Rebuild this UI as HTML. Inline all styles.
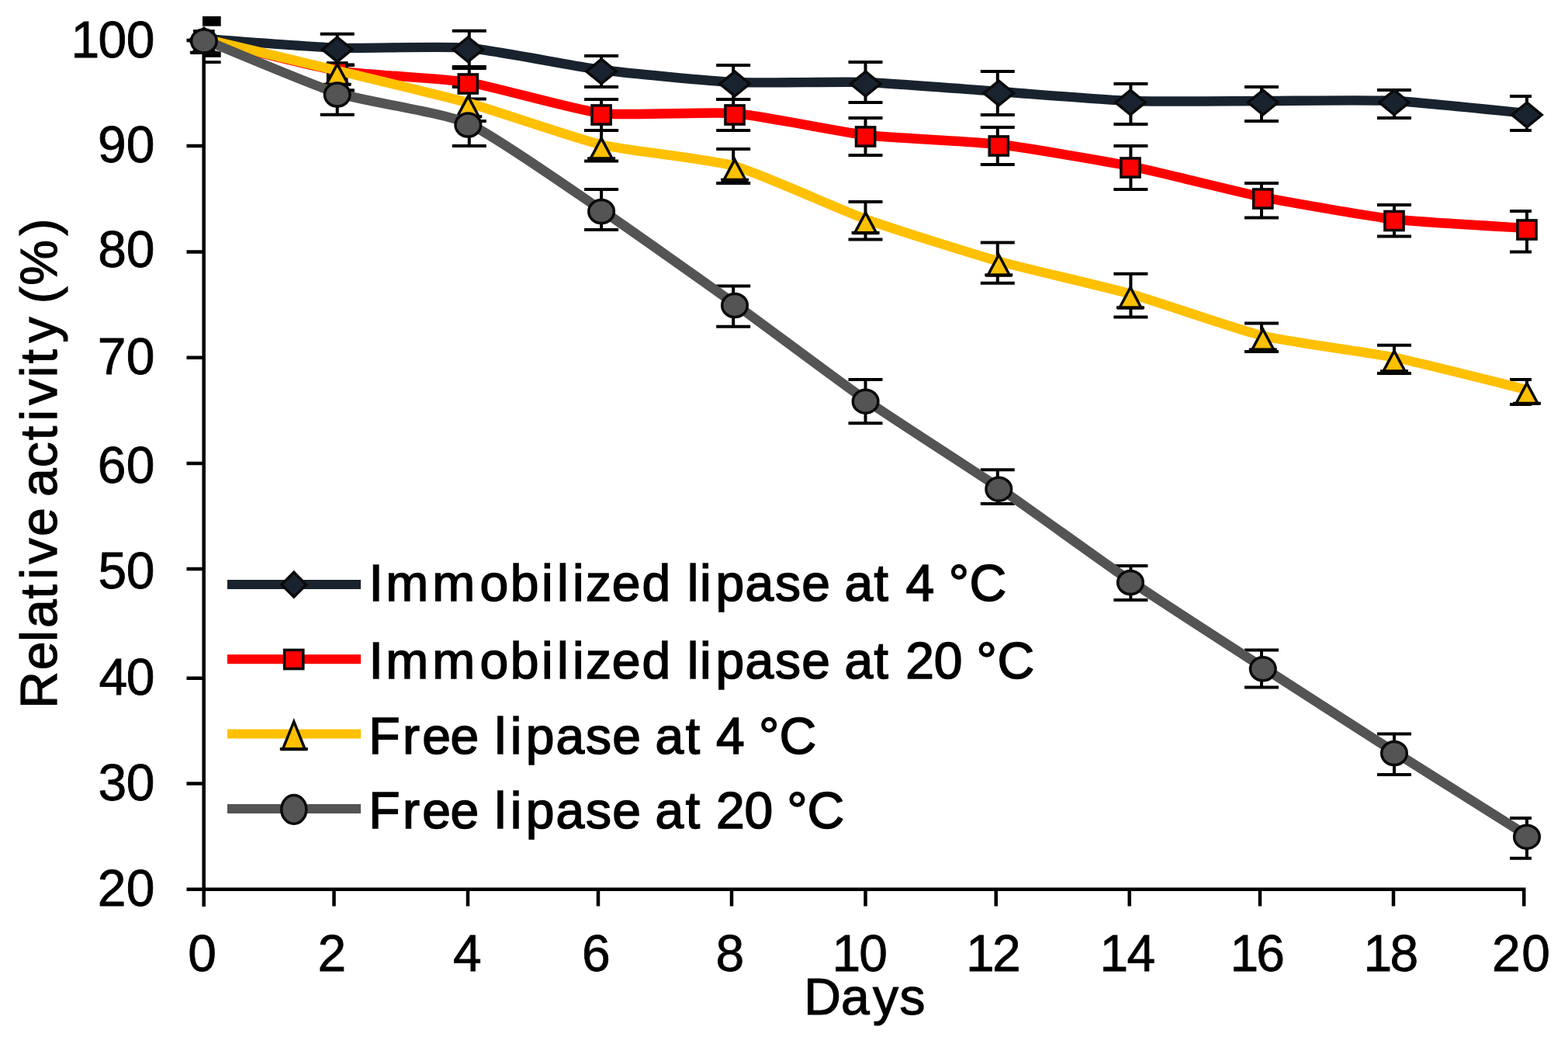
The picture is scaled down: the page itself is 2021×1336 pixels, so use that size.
<!DOCTYPE html>
<html lang="en">
<head>
<meta charset="utf-8">
<title>Relative activity of lipase over days</title>
<style>
html,body{margin:0;padding:0;background:#fff;}
body{width:2021px;height:1336px;overflow:hidden;}
svg{display:block;filter:blur(0.7px);}
text{font-family:"Liberation Sans",sans-serif;font-size:66px;fill:#000;}
.tk{stroke:#000;stroke-width:0.8px;}
.lg{stroke:#000;stroke-width:1.6px;}
.ttl{stroke:#000;stroke-width:1.2px;}
.ax{stroke:#000;stroke-width:4.5;fill:none;}
.eb path{stroke:#000;stroke-width:4;fill:none;}
.ln{fill:none;stroke-linejoin:round;stroke-linecap:butt;}
.mk{stroke:#0a0a0a;stroke-width:3.5;stroke-linejoin:miter;}
</style>
</head>
<body>
<svg width="2021" height="1336" viewBox="0 0 2021 1336">
<defs><clipPath id="plot"><rect x="261" y="0" width="1713" height="1146"/></clipPath></defs>
<rect width="2021" height="1336" fill="#fff"/>
<path class="ax" d="M262.7,50V1168 M240.5,1145.75H1966.5 M240.5,52H262.7 M240.5,188H262.7 M240.5,324.5H262.7 M240.5,460.75H262.7 M240.5,597H262.7 M240.5,733H262.7 M240.5,873.75H262.7 M240.5,1009.5H262.7 M430.5,1145.75V1167.5 M603,1145.75V1167.5 M771,1145.75V1167.5 M943,1145.75V1167.5 M1115.5,1145.75V1167.5 M1283.75,1145.75V1167.5 M1455.75,1145.75V1167.5 M1624,1145.75V1167.5 M1796,1145.75V1167.5 M1964.25,1145.75V1167.5"/>
<text class="tk" x="91.6 126.6 162.8" y="73.5">100</text>
<text class="tk" x="126.1 162.8" y="208.6">90</text>
<text class="tk" x="126.3 162.8" y="343.8">80</text>
<text class="tk" x="125.8 162.8" y="482.4">70</text>
<text class="tk" x="125.8 162.8" y="621.8">60</text>
<text class="tk" x="126.5 162.8" y="758.3">50</text>
<text class="tk" x="127.6 162.8" y="895.1">40</text>
<text class="tk" x="126.6 162.8" y="1030.7">30</text>
<text class="tk" x="125.8 162.8" y="1167.1">20</text>
<text class="tk" x="242.3" y="1250.6">0</text>
<text class="tk" x="409.6" y="1250.6">2</text>
<text class="tk" x="583.9" y="1250.6">4</text>
<text class="tk" x="750.0" y="1250.6">6</text>
<text class="tk" x="922.5" y="1250.6">8</text>
<text class="tk" x="1072.4 1107.3" y="1250.6">10</text>
<text class="tk" x="1244.9 1279.1" y="1250.6">12</text>
<text class="tk" x="1417.4 1452.6" y="1250.6">14</text>
<text class="tk" x="1585.6 1619.3" y="1250.6">16</text>
<text class="tk" x="1757.6 1791.5" y="1250.6">18</text>
<text class="tk" x="1923.1 1961.3" y="1250.6">20</text>
<text class="ttl" x="1036.3 1084.0 1125.0 1159.6" y="1306.8">Days</text>
<text class="ttl" transform="translate(72.5,0) rotate(-90)" x="-912.8 -863.2 -826.8 -809.0 -771.6 -746.6 -726.4 -690.9 -654.2 -640.0 -602.3 -567.2 -542.6 -521.8 -486.3 -468.4 -441.4 -408.4 -391.2 -367.8 -303.5" y="0">Relative activity (%)</text>
<g class="eb" clip-path="url(#plot)"><path d="M412.7,83.7H456.7M434.7,43.8V83.7M412.7,43.8H456.7"/><path d="M582.8,86.0H626.8M604.8,39.8V86.0M582.8,39.8H626.8"/><path d="M753.1,112.0H797.1M775.1,72.0V112.0M753.1,72.0H797.1"/><path d="M923.2,128.0H967.2M945.2,84.0V128.0M923.2,84.0H967.2"/><path d="M1093.5,132.0H1137.5M1115.5,80.0V132.0M1093.5,80.0H1137.5"/><path d="M1263.8,148.0H1307.8M1285.8,92.0V148.0M1263.8,92.0H1307.8"/><path d="M1435.4,160.0H1479.4M1457.4,108.0V160.0M1435.4,108.0H1479.4"/><path d="M1604.0,156.0H1648.0M1626.0,112.0V156.0M1604.0,112.0H1648.0"/><path d="M1775.0,152.0H1819.0M1797.0,116.0V152.0M1775.0,116.0H1819.0"/><path d="M1946.0,168.0H1990.0M1968.0,124.0V168.0M1946.0,124.0H1990.0"/><path d="M412.7,116.5H456.7M434.7,83.7V116.5M412.7,83.7H456.7"/><path d="M582.8,127.4H626.8M604.8,88.0V127.4M582.8,88.0H626.8"/><path d="M753.1,168.0H797.1M775.1,128.0V168.0M753.1,128.0H797.1"/><path d="M923.2,168.0H967.2M945.2,128.0V168.0M923.2,128.0H967.2"/><path d="M1093.5,200.0H1137.5M1115.5,152.0V200.0M1093.5,152.0H1137.5"/><path d="M1263.8,212.0H1307.8M1285.8,164.0V212.0M1263.8,164.0H1307.8"/><path d="M1435.4,244.0H1479.4M1457.4,188.0V244.0M1435.4,188.0H1479.4"/><path d="M1604.0,280.5H1648.0M1626.0,236.0V280.5M1604.0,236.0H1648.0"/><path d="M1775.0,304.5H1819.0M1797.0,264.0V304.5M1775.0,264.0H1819.0"/><path d="M1946.0,324.5H1990.0M1968.0,272.0V324.5M1946.0,272.0H1990.0"/><path d="M412.7,116.5H456.7M434.7,83.7V116.5M412.7,83.7H456.7"/><path d="M582.8,156.0H626.8M604.8,112.0V156.0M582.8,112.0H626.8"/><path d="M753.1,207.5H797.1M775.1,168.0V207.5M753.1,168.0H797.1"/><path d="M923.2,236.0H967.2M945.2,192.0V236.0M923.2,192.0H967.2"/><path d="M1093.5,308.5H1137.5M1115.5,260.0V308.5M1093.5,260.0H1137.5"/><path d="M1263.8,364.8H1307.8M1285.8,312.5V364.8M1263.8,312.5H1307.8"/><path d="M1435.4,408.5H1479.4M1457.4,352.8V408.5M1435.4,352.8H1479.4"/><path d="M1604.0,453.0H1648.0M1626.0,416.5V453.0M1604.0,416.5H1648.0"/><path d="M1775.0,481.0H1819.0M1797.0,444.8V481.0M1775.0,444.8H1819.0"/><path d="M1946.0,521.0H1990.0M1968.0,489.0V521.0M1946.0,489.0H1990.0"/><path d="M412.7,147.7H456.7M434.7,117.7V147.7"/><path d="M582.8,188.0H626.8M604.8,158.0V188.0"/><path d="M753.1,296.0H797.1M775.1,244.0V296.0M753.1,244.0H797.1"/><path d="M923.2,420.8H967.2M945.2,368.5V420.8M923.2,368.5H967.2"/><path d="M1093.5,545.2H1137.5M1115.5,489.0V545.2M1093.5,489.0H1137.5"/><path d="M1263.8,649.0H1307.8M1285.8,605.2V649.0M1263.8,605.2H1307.8"/><path d="M1435.4,773.0H1479.4M1457.4,729.0V773.0M1435.4,729.0H1479.4"/><path d="M1604.0,885.5H1648.0M1626.0,837.5V885.5M1604.0,837.5H1648.0"/><path d="M1775.0,998.0H1819.0M1797.0,945.5V998.0M1775.0,945.5H1819.0"/><path d="M1946.0,1105.8H1990.0M1968.0,1054.0V1105.8M1946.0,1054.0H1990.0"/></g>
<rect x="261" y="21" width="23.7" height="12.7" fill="#000"/><rect x="261" y="66.3" width="23.7" height="7.5" fill="#000"/><rect x="262.9" y="78.2" width="21.8" height="3.8" fill="#000"/>
<path class="ln" stroke="#18232f" stroke-width="12.4" d="M262.90,50.00 C278.93,51.10 402.93,60.65 434.70,61.75 C466.47,62.85 571.53,59.11 603.30,61.75 C635.07,64.39 743.02,85.87 775.10,90.00 C807.18,94.13 915.22,104.51 947.00,106.00 C978.78,107.49 1083.84,104.88 1115.60,106.00 C1147.36,107.12 1255.44,115.76 1287.30,118.00 C1319.16,120.24 1425.22,128.88 1457.00,130.00 C1488.78,131.12 1596.07,130.00 1627.80,130.00 C1659.53,130.00 1765.25,128.51 1797.00,130.00 C1828.75,131.49 1952.04,144.51 1968.00,146.00"/>
<g><path class="mk" stroke="#0c1219" stroke-width="2.6" fill="#18232f" d="M262.9,36.2L282.1,52.0L262.9,67.8L243.7,52.0Z"/><path class="mk" stroke="#0c1219" stroke-width="2.6" fill="#18232f" d="M434.7,48.0L453.9,63.8L434.7,79.5L415.5,63.8Z"/><path class="mk" stroke="#0c1219" stroke-width="2.6" fill="#18232f" d="M603.3,48.0L622.5,63.8L603.3,79.5L584.1,63.8Z"/><path class="mk" stroke="#0c1219" stroke-width="2.6" fill="#18232f" d="M775.1,76.2L794.3,92.0L775.1,107.8L755.9,92.0Z"/><path class="mk" stroke="#0c1219" stroke-width="2.6" fill="#18232f" d="M947.0,92.2L966.2,108.0L947.0,123.8L927.8,108.0Z"/><path class="mk" stroke="#0c1219" stroke-width="2.6" fill="#18232f" d="M1115.6,92.2L1134.8,108.0L1115.6,123.8L1096.4,108.0Z"/><path class="mk" stroke="#0c1219" stroke-width="2.6" fill="#18232f" d="M1287.3,104.2L1306.5,120.0L1287.3,135.8L1268.1,120.0Z"/><path class="mk" stroke="#0c1219" stroke-width="2.6" fill="#18232f" d="M1457.0,116.2L1476.2,132.0L1457.0,147.8L1437.8,132.0Z"/><path class="mk" stroke="#0c1219" stroke-width="2.6" fill="#18232f" d="M1627.8,116.2L1647.0,132.0L1627.8,147.8L1608.6,132.0Z"/><path class="mk" stroke="#0c1219" stroke-width="2.6" fill="#18232f" d="M1797.0,116.2L1816.2,132.0L1797.0,147.8L1777.8,132.0Z"/><path class="mk" stroke="#0c1219" stroke-width="2.6" fill="#18232f" d="M1968.0,132.2L1987.2,148.0L1968.0,163.8L1948.8,148.0Z"/></g>
<path class="ln" stroke="#ff0000" stroke-width="12.4" d="M262.90,50.00 C278.93,53.83 402.93,85.77 434.70,91.00 C466.47,96.23 571.53,100.87 603.30,106.00 C635.07,111.13 743.02,142.27 775.10,146.00 C807.18,149.73 915.22,143.39 947.00,146.00 C978.78,148.61 1083.84,170.27 1115.60,174.00 C1147.36,177.73 1255.44,182.27 1287.30,186.00 C1319.16,189.73 1425.22,207.65 1457.00,214.00 C1488.78,220.35 1596.07,247.61 1627.80,254.00 C1659.53,260.39 1765.25,278.77 1797.00,282.50 C1828.75,286.23 1952.04,292.93 1968.00,294.00"/>
<g><rect class="mk" stroke-width="3.7" fill="#ff0000" x="250.8" y="39.9" width="24.2" height="24.2"/><rect class="mk" stroke-width="3.7" fill="#ff0000" x="422.6" y="80.9" width="24.2" height="24.2"/><rect class="mk" stroke-width="3.7" fill="#ff0000" x="591.2" y="95.9" width="24.2" height="24.2"/><rect class="mk" stroke-width="3.7" fill="#ff0000" x="763.0" y="135.9" width="24.2" height="24.2"/><rect class="mk" stroke-width="3.7" fill="#ff0000" x="934.9" y="135.9" width="24.2" height="24.2"/><rect class="mk" stroke-width="3.7" fill="#ff0000" x="1103.5" y="163.9" width="24.2" height="24.2"/><rect class="mk" stroke-width="3.7" fill="#ff0000" x="1275.2" y="175.9" width="24.2" height="24.2"/><rect class="mk" stroke-width="3.7" fill="#ff0000" x="1444.9" y="203.9" width="24.2" height="24.2"/><rect class="mk" stroke-width="3.7" fill="#ff0000" x="1615.7" y="243.9" width="24.2" height="24.2"/><rect class="mk" stroke-width="3.7" fill="#ff0000" x="1784.9" y="272.4" width="24.2" height="24.2"/><rect class="mk" stroke-width="3.7" fill="#ff0000" x="1955.9" y="283.9" width="24.2" height="24.2"/></g>
<path class="ln" stroke="#ffc000" stroke-width="12.4" d="M262.90,50.00 C278.93,53.83 402.93,83.30 434.70,91.00 C466.47,98.70 571.53,123.59 603.30,132.50 C635.07,141.41 743.02,178.89 775.10,186.50 C807.18,194.11 915.22,205.06 947.00,214.00 C978.78,222.94 1083.84,270.86 1115.60,282.30 C1147.36,293.74 1255.44,327.61 1287.30,336.60 C1319.16,345.59 1425.22,369.63 1457.00,378.60 C1488.78,387.57 1596.07,425.06 1627.80,432.70 C1659.53,440.34 1765.25,454.03 1797.00,460.50 C1828.75,466.97 1952.04,498.13 1968.00,502.00"/>
<g><path class="mk" stroke="#1c1400" stroke-width="2.4" fill="#ffc000" d="M262.9,41.6L277.1,68.3H248.7Z"/><rect x="244.9" y="65.7" width="36" height="3.8" fill="#0a0700"/><path class="mk" stroke="#1c1400" stroke-width="2.4" fill="#ffc000" d="M434.7,82.6L448.9,109.3H420.5Z"/><rect x="416.7" y="106.7" width="36" height="3.8" fill="#0a0700"/><path class="mk" stroke="#1c1400" stroke-width="2.4" fill="#ffc000" d="M603.3,124.1L617.5,150.8H589.1Z"/><rect x="585.3" y="148.2" width="36" height="3.8" fill="#0a0700"/><path class="mk" stroke="#1c1400" stroke-width="2.4" fill="#ffc000" d="M775.1,178.1L789.3,204.8H760.9Z"/><rect x="757.1" y="202.2" width="36" height="3.8" fill="#0a0700"/><path class="mk" stroke="#1c1400" stroke-width="2.4" fill="#ffc000" d="M947.0,205.6L961.2,232.3H932.8Z"/><rect x="929.0" y="229.7" width="36" height="3.8" fill="#0a0700"/><path class="mk" stroke="#1c1400" stroke-width="2.4" fill="#ffc000" d="M1115.6,273.9L1129.8,300.6H1101.4Z"/><rect x="1097.6" y="298.0" width="36" height="3.8" fill="#0a0700"/><path class="mk" stroke="#1c1400" stroke-width="2.4" fill="#ffc000" d="M1287.3,328.2L1301.5,354.9H1273.1Z"/><rect x="1269.3" y="352.3" width="36" height="3.8" fill="#0a0700"/><path class="mk" stroke="#1c1400" stroke-width="2.4" fill="#ffc000" d="M1457.0,370.2L1471.2,396.9H1442.8Z"/><rect x="1439.0" y="394.3" width="36" height="3.8" fill="#0a0700"/><path class="mk" stroke="#1c1400" stroke-width="2.4" fill="#ffc000" d="M1627.8,424.3L1642.0,451.0H1613.6Z"/><rect x="1609.8" y="448.4" width="36" height="3.8" fill="#0a0700"/><path class="mk" stroke="#1c1400" stroke-width="2.4" fill="#ffc000" d="M1797.0,452.1L1811.2,478.8H1782.8Z"/><rect x="1779.0" y="476.2" width="36" height="3.8" fill="#0a0700"/><path class="mk" stroke="#1c1400" stroke-width="2.4" fill="#ffc000" d="M1968.0,493.6L1982.2,520.3H1953.8Z"/><rect x="1950.0" y="517.7" width="36" height="3.8" fill="#0a0700"/></g>
<path class="ln" stroke="#545454" stroke-width="12.4" d="M262.90,51.00 C278.93,57.44 402.93,109.92 434.70,120.00 C466.47,130.08 571.53,144.95 603.30,159.00 C635.07,173.05 743.02,248.80 775.10,270.50 C807.18,292.20 915.22,368.66 947.00,391.50 C978.78,414.34 1083.84,493.15 1115.60,515.25 C1147.36,537.35 1255.44,606.48 1287.30,628.25 C1319.16,650.02 1425.22,726.89 1457.00,748.50 C1488.78,770.11 1596.07,839.22 1627.80,859.75 C1659.53,880.28 1765.25,948.29 1797.00,968.50 C1828.75,988.71 1952.04,1066.19 1968.00,1076.25"/>
<g><ellipse class="mk" stroke-width="3.4" fill="#545454" cx="262.9" cy="53.0" rx="16.3" ry="15.0"/><ellipse class="mk" stroke-width="3.4" fill="#545454" cx="434.7" cy="122.0" rx="16.3" ry="15.0"/><ellipse class="mk" stroke-width="3.4" fill="#545454" cx="603.3" cy="161.0" rx="16.3" ry="15.0"/><ellipse class="mk" stroke-width="3.4" fill="#545454" cx="775.1" cy="272.5" rx="16.3" ry="15.0"/><ellipse class="mk" stroke-width="3.4" fill="#545454" cx="947.0" cy="393.5" rx="16.3" ry="15.0"/><ellipse class="mk" stroke-width="3.4" fill="#545454" cx="1115.6" cy="517.2" rx="16.3" ry="15.0"/><ellipse class="mk" stroke-width="3.4" fill="#545454" cx="1287.3" cy="630.2" rx="16.3" ry="15.0"/><ellipse class="mk" stroke-width="3.4" fill="#545454" cx="1457.0" cy="750.5" rx="16.3" ry="15.0"/><ellipse class="mk" stroke-width="3.4" fill="#545454" cx="1627.8" cy="861.8" rx="16.3" ry="15.0"/><ellipse class="mk" stroke-width="3.4" fill="#545454" cx="1797.0" cy="970.5" rx="16.3" ry="15.0"/><ellipse class="mk" stroke-width="3.4" fill="#545454" cx="1968.0" cy="1078.2" rx="16.3" ry="15.0"/></g>
<path class="ln" stroke="#18232f" stroke-width="12" d="M293,753H465"/><path class="mk" stroke="#0c1219" stroke-width="2.6" fill="#18232f" d="M378.8,737.3L394.6,753.2L378.8,769.1L362.9,753.2Z"/><text class="lg" x="475.5 497.2 557.2 618.5 657.8 697.9 717.9 737.9 755.1 788.8 827.6 864.3 885.8 902.1 922.4 960.5 999.1 1033.2 1069.9 1088.4 1126.6 1144.9 1167.5 1204.2 1222.7 1249.5" y="774.2">Immobilized lipase at 4 °C</text>
<path class="ln" stroke="#ff0000" stroke-width="12" d="M293,849.25H465"/><rect class="mk" stroke-width="3.7" fill="#ff0000" x="366.6" y="837.4" width="24.2" height="24.2"/><text class="lg" x="475.5 497.2 557.2 618.5 657.8 697.9 717.9 737.9 755.1 788.8 827.6 864.3 885.8 902.1 922.4 960.5 999.1 1033.2 1069.9 1088.4 1126.6 1144.9 1167.3 1203.8 1240.5 1258.4 1285.4" y="874.2">Immobilized lipase at 20 °C</text>
<path class="ln" stroke="#ffc000" stroke-width="12" d="M293,945.5H465"/><path class="mk" stroke="#1c1400" stroke-width="2.4" fill="#ffc000" d="M378.8,929.7L393.2,965.6H364.3Z"/><rect x="360.8" y="963.0" width="36" height="3.8" fill="#0a0700"/><text class="lg" x="475.3 518.9 544.2 580.5 617.2 637.4 657.7 677.8 716.5 755.0 789.2 825.9 844.4 883.7 902.0 922.9 959.6 978.1 1004.6" y="970.5">Free lipase at 4 °C</text>
<path class="ln" stroke="#545454" stroke-width="12" d="M293,1042H465"/><ellipse class="mk" stroke-width="3.4" fill="#545454" cx="378.8" cy="1042.9" rx="16.0" ry="18.4"/><text class="lg" x="475.3 518.9 544.2 580.5 617.2 637.4 657.7 677.8 716.5 755.0 789.2 825.9 844.4 883.7 902.0 922.9 959.5 996.2 1014.3 1040.5" y="1066.7">Free lipase at 20 °C</text>
</svg>
</body>
</html>
